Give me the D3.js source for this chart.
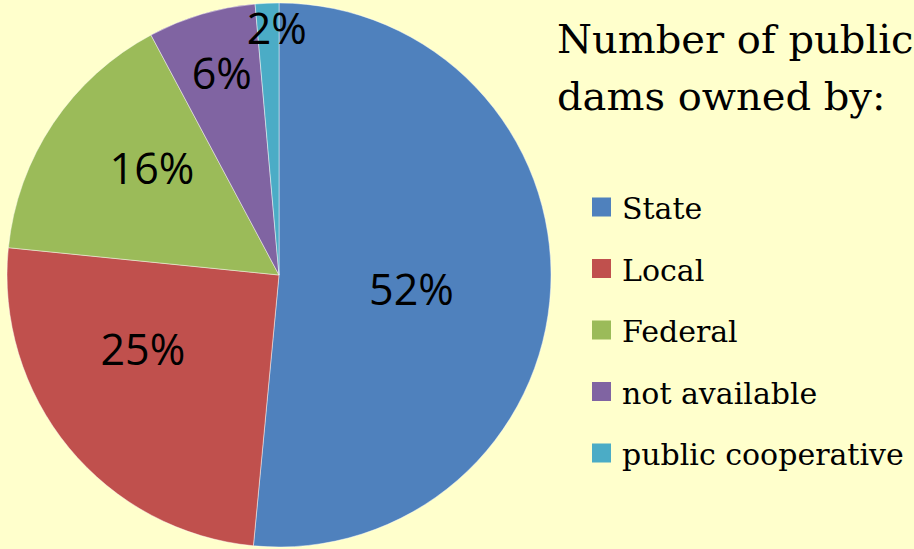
<!DOCTYPE html>
<html>
<head>
<meta charset="utf-8">
<script src="https://cdn.jsdelivr.net/npm/d3@7"></script>
<style>
  html, body { margin: 0; padding: 0; background: #FFFFCC; }
  svg { display: block; }
  .serifa { font-family: "DejaVu Serif", serif; }
</style>
</head>
<body>
<svg id="grafico"></svg>
<script>
// dados
let categorias = ["State", "Local", "Federal", "not available", "public cooperative"];
let valores = [51.5, 25.1, 15.6, 6.4, 1.4];
let rotulos = ["52%", "25%", "16%", "6%", "2%"];
let cores = ["#4F81BD", "#C0504D", "#9BBB59", "#8064A2", "#4BACC6"];
let titulo = ["Number of public", "dams owned by:"];

// onde fica cada rótulo dentro da fatia (fração do ângulo, fração do raio)
let rotuloAngulo = [0.52, 0.62, 0.61, 0.53, 0.9];
let rotuloRaio = [0.49, 0.57, 0.61, 0.77, 0.905];

let width = 914, height = 549;
let svg = d3.select("#grafico")
    .attr("width", width)
    .attr("height", height)
    .attr("viewBox", "0 0 " + width + " " + height);

svg.append("rect")
    .attr("width", width).attr("height", height)
    .attr("fill", "#FFFFCC");

let cx = 279, cy = 275, raio = 272;

let pizza = d3.pie().sort(null).value(d => d);
let fatias = pizza(valores);
let arco = d3.arc().innerRadius(0).outerRadius(raio);

let grupo = svg.append("g").attr("transform", "translate(" + cx + "," + cy + ")");

grupo.selectAll("path")
    .data(fatias)
    .enter().append("path")
    .attr("d", arco)
    .attr("fill", (d, i) => cores[i])
    .attr("stroke", "rgba(255,255,255,0.45)")
    .attr("stroke-width", 1);

grupo.selectAll("text")
    .data(fatias)
    .enter().append("text")
    .attr("transform", function(d, i) {
        let a = d.startAngle + (d.endAngle - d.startAngle) * rotuloAngulo[i];
        let r = raio * rotuloRaio[i];
        return "translate(" + (Math.sin(a) * r) + "," + (-Math.cos(a) * r) + ")";
    })
    .attr("text-anchor", "middle")
    .attr("dy", "0.36em")
    .style("font-family", "'Open Sans', sans-serif")
    .style("font-size", "43px")
    .attr("fill", "#000")
    .text((d, i) => rotulos[i]);

// título
svg.selectAll("text.titulo")
    .data(titulo)
    .enter().append("text")
    .attr("class", "titulo serifa")
    .attr("x", 557)
    .attr("y", (d, i) => 53 + i * 57)
    .style("font-size", "40px")
    .attr("fill", "#000")
    .text(d => d);

// legenda
let yLegenda = d3.scalePoint().domain(categorias).range([207, 453]);

let legenda = svg.selectAll("g.legenda")
    .data(categorias)
    .enter().append("g")
    .attr("class", "legenda")
    .attr("transform", d => "translate(592," + yLegenda(d) + ")");

legenda.append("rect")
    .attr("x", 0).attr("y", -9.5)
    .attr("width", 19).attr("height", 19)
    .attr("fill", (d, i) => cores[i]);

legenda.append("text")
    .attr("class", "serifa")
    .attr("x", 30)
    .attr("y", 12)
    .style("font-size", "30px")
    .attr("fill", "#000")
    .text(d => d);
</script>
</body>
</html>
